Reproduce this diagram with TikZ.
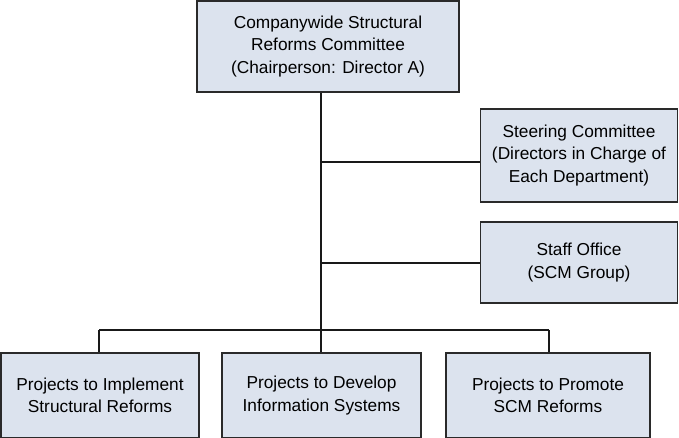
\documentclass[tikz,border=0pt]{standalone}
\usepackage{fontspec}
\setmainfont{Liberation Sans}
\definecolor{boxfill}{HTML}{DCE3EE}
\definecolor{boxline}{HTML}{2A2A2A}
\begin{document}
\begin{tikzpicture}[x=1pt,y=-1pt,
  orgbox/.style={draw=boxline,line width=1.5pt,fill=boxfill,inner sep=0pt,
    align=center,font=\fontsize{17.3}{22.5}\selectfont,text=black},
  conn/.style={draw=black!90,line width=2.6pt}]
\useasboundingbox (0,0) rectangle (679,438);
\node[orgbox,minimum width=262pt,minimum height=91pt] (top) at (328,46.5)
  {Companywide Structural\\Reforms Committee\\(Chairperson: Director A)};
\node[orgbox,minimum width=197pt,minimum height=93pt] (steer) at (579,155.5)
  {Steering Committee\\(Directors in Charge of\\Each Department)};
\node[orgbox,minimum width=197pt,minimum height=81pt] (staff) at (579,262.5)
  {Staff Office\\(SCM Group)};
\node[orgbox,minimum width=198pt,minimum height=85pt] (p1) at (100,395.5)
  {Projects to Implement\\Structural Reforms};
\node[orgbox,minimum width=199pt,minimum height=85pt] (p2) at (321.5,395.5)
  {Projects to Develop\\Information Systems};
\node[orgbox,minimum width=204pt,minimum height=85pt] (p3) at (548,395.5)
  {Projects to Promote\\SCM Reforms};
\coordinate (j1) at (321,162);
\coordinate (j2) at (321,263);
\coordinate (j3) at (321,330);
\coordinate (l3) at (99,330);
\coordinate (r3) at (549,330);
\draw[conn] (top.south -| j1) -- (j3);
\draw[conn] (j1) -- (j1 -| steer.west);
\draw[conn] (j2) -- (j2 -| staff.west);
\draw[conn] (l3) -- (r3);
\draw[conn] (l3) -- (l3 |- p1.north);
\draw[conn] (j3) -- (j3 |- p2.north);
\draw[conn] (r3) -- (r3 |- p3.north);
\end{tikzpicture}
\end{document}
